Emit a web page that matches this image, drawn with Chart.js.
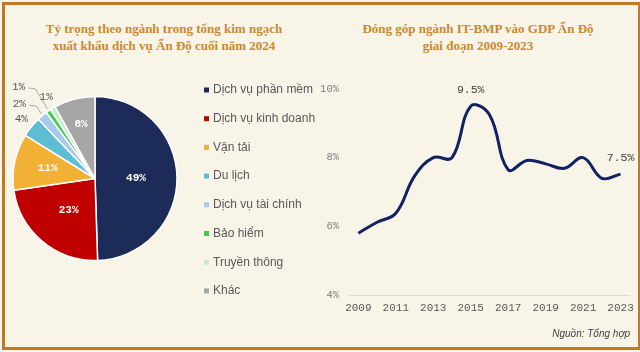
<!DOCTYPE html>
<html>
<head>
<meta charset="utf-8">
<script src="https://cdn.jsdelivr.net/npm/chart.js@4.4.1/dist/chart.umd.min.js"></script>
<style>
  html, body { margin: 0; padding: 0; }
  body { width: 640px; height: 352px; background: #f8f4e8; position: relative; overflow: hidden; }
  .frame { position: absolute; left: 2px; top: 2px; width: 640px; height: 348px; border-left: 3px solid #c27a22; border-top: 3px solid #c27a22; border-bottom: 3px solid #c27a22; box-sizing: border-box; }
  .frame:after { content: ''; position: absolute; right: 2px; top: 0; bottom: 0; border-right: 2px solid #c27a22; }
  .title { position: absolute; top: 20px; font: bold 13px "Liberation Serif", "Times New Roman", serif; color: #c98a2e; text-align: center; line-height: 17px; }
  #t1 { left: 4px; width: 320px; }
  #t2 { left: 320px; width: 316px; }
  #src { position: absolute; right: 10px; top: 328px; font: italic 10px "Liberation Sans", Arial, sans-serif; color: #404040; }
  #pieWrap { position: absolute; left: 0; top: 60px; width: 320px; height: 280px; }
  #lineWrap { position: absolute; left: 318px; top: 70px; width: 322px; height: 250px; }
</style>
</head>
<body>
<div class="frame"></div>
<div class="title" id="t1">Tỷ trọng theo ngành trong tổng kim ngạch<br>xuất khẩu dịch vụ Ấn Độ cuối năm 2024</div>
<div class="title" id="t2">Đóng góp ngành IT-BMP vào GDP Ấn Độ<br>giai đoạn 2009-2023</div>
<div id="pieWrap"><canvas id="pie"></canvas></div>
<div id="lineWrap"><canvas id="line"></canvas></div>
<div id="src">Nguồn: Tổng hợp</div>
<script>
// data
const categories = ['Dịch vụ phần mềm', 'Dịch vụ kinh doanh', 'Vận tải', 'Du lịch',
  'Dịch vụ tài chính', 'Bảo hiểm', 'Truyền thông', 'Khác'];
const shares = [49, 23, 11, 4, 2, 1, 1, 8];
const pieColors = ['#1c2b58', '#c00000', '#f0b134', '#5dbdd3', '#a9c9ec', '#3dcc4f', '#c6edc8', '#a6a6a6'];

const years = ['2009', '2010', '2011', '2012', '2013', '2014', '2015', '2016',
  '2017', '2018', '2019', '2020', '2021', '2022', '2023'];
const itShare = [5.8, 6.12, 6.38, 7.46, 8.0, 8.0, 9.5, 9.25, 7.65, 7.92, 7.82, 7.69, 8.0, 7.4, 7.52];
const labelledYears = ['2015', '2023'];

const mono = '"Liberation Mono", "Courier New", monospace';

// labels on the pie slices
const pieLabels = {
  id: 'pieLabels',
  afterDatasetsDraw(chart) {
    const ctx = chart.ctx;
    const arcs = chart.getDatasetMeta(0).data;
    const inside = { 0: 0.5, 1: 0.5, 2: 0.59, 7: 0.68 };
    const leader = { 4: [-23, -11.5], 5: [-30, -24] };
    ctx.save();
    ctx.textAlign = 'center';
    ctx.textBaseline = 'middle';
    arcs.forEach((arc, i) => {
      const mid = (arc.startAngle + arc.endAngle) / 2;
      const R = arc.outerRadius;
      const txt = shares[i] + '%';
      if (inside[i] !== undefined) {
        const r = R * inside[i];
        ctx.font = 'bold 11px ' + mono;
        ctx.fillStyle = '#ffffff';
        ctx.fillText(txt, arc.x + Math.cos(mid) * r, arc.y + Math.sin(mid) * r);
      } else if (leader[i]) {
        const ex = arc.x + Math.cos(mid) * R;
        const ey = arc.y + Math.sin(mid) * R;
        const lx = ex + leader[i][0];
        const ly = ey + leader[i][1];
        ctx.strokeStyle = '#a6a6a6';
        ctx.lineWidth = 1;
        ctx.beginPath();
        ctx.moveTo(ex - 1, ey - 2);
        ctx.lineTo(lx + 17, ly + 2);
        ctx.lineTo(lx + 10, ly + 1);
        ctx.stroke();
        ctx.font = '11px ' + mono;
        ctx.fillStyle = '#595959';
        ctx.fillText(txt, lx, ly);
      } else {
        const r = R + 13;
        ctx.font = '11px ' + mono;
        ctx.fillStyle = '#595959';
        ctx.fillText(txt, arc.x + Math.cos(mid) * r, arc.y + Math.sin(mid) * r);
      }
    });
    ctx.restore();
  }
};

// legend next to the pie
const pieLegend = {
  id: 'pieLegend',
  afterDraw(chart) {
    const ctx = chart.ctx;
    ctx.save();
    ctx.font = '12px "Liberation Sans", Arial, sans-serif';
    ctx.textBaseline = 'middle';
    categories.forEach((c, i) => {
      const y = 30 + i * 28.7;
      ctx.fillStyle = pieColors[i];
      ctx.fillRect(204, y - 2.5, 5, 5);
      ctx.fillStyle = '#595959';
      ctx.fillText(c, 213, y);
    });
    ctx.restore();
  }
};

new Chart(document.getElementById('pie'), {
  type: 'pie',
  data: {
    labels: categories,
    datasets: [{ data: shares, backgroundColor: pieColors, borderColor: '#ffffff', borderWidth: 1.5 }]
  },
  options: {
    responsive: true,
    maintainAspectRatio: false,
    animation: false,
    radius: 82,
    layout: { padding: { left: 0, right: 130, top: 0, bottom: 43 } },
    plugins: { legend: { display: false }, tooltip: { enabled: false } }
  },
  plugins: [pieLabels, pieLegend]
});

// value labels on the line
const lineLabels = {
  id: 'lineLabels',
  afterDatasetsDraw(chart) {
    const ctx = chart.ctx;
    const pts = chart.getDatasetMeta(0).data;
    ctx.save();
    ctx.font = '11.5px ' + mono;
    ctx.fillStyle = '#404040';
    ctx.textAlign = 'center';
    ctx.textBaseline = 'middle';
    years.forEach((y, i) => {
      if (!labelledYears.includes(y)) return;
      ctx.fillText(itShare[i].toFixed(1) + '%', pts[i].x, pts[i].y - 16);
    });
    ctx.restore();
  }
};

new Chart(document.getElementById('line'), {
  type: 'line',
  data: {
    labels: years,
    datasets: [{
      data: itShare,
      borderColor: '#102262',
      borderWidth: 3,
      pointRadius: 0,
      tension: 0.4,
      fill: false
    }]
  },
  options: {
    responsive: true,
    maintainAspectRatio: false,
    animation: false,
    layout: { padding: { left: 0, right: 8, top: 19, bottom: 0 } },
    plugins: { legend: { display: false }, tooltip: { enabled: false } },
    scales: {
      x: {
        offset: true,
        grid: { display: false, drawTicks: false },
        border: { display: true, color: '#dedbd2', width: 1 },
        ticks: {
          autoSkip: false,
          maxRotation: 0,
          padding: 6,
          color: '#595959',
          font: { family: mono, size: 11 },
          callback: (v, i) => (i % 2 === 0 ? years[i] : '')
        },
        afterFit: (s) => { s.height = 25; }
      },
      y: {
        min: 4,
        max: 10,
        grid: { display: false, drawTicks: false },
        border: { display: false },
        ticks: {
          stepSize: 2,
          padding: 10,
          color: '#7f7f7f',
          font: { family: mono, size: 10.5 },
          callback: (v) => v + '%'
        },
        afterFit: (s) => { s.width = 31; }
      }
    }
  },
  plugins: [lineLabels]
});
</script>
</body>
</html>
